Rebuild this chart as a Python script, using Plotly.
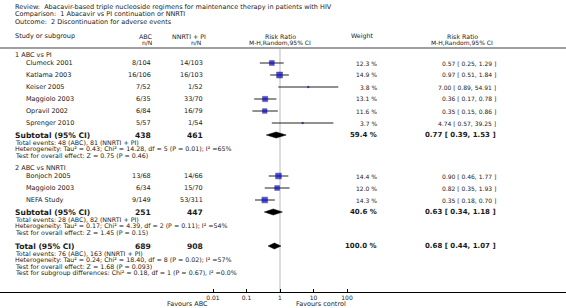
import plotly.graph_objects as go
import math

W, H = 566, 308

title_lines = [
    "Review:  Abacavir-based triple nucleoside regimens for maintenance therapy in patients with HIV",
    "Comparison:  1 Abacavir vs PI continuation or NNRTI",
    "Outcome:  2 Discontinuation for adverse events",
]

# Group 1: ABC vs PI
g1_label = "1 ABC vs PI"
g1_studies = ["Clumeck 2001", "Katlama 2003", "Keiser 2005", "Maggiolo 2003", "Opravil 2002", "Sprenger 2010"]
g1_abc = ["8/104", "16/106", "7/52", "6/35", "6/84", "5/57"]
g1_ctl = ["14/103", "16/103", "1/52", "33/70", "16/79", "1/54"]
g1_weight = [12.3, 14.9, 3.8, 13.1, 11.6, 3.7]
g1_rr = [0.57, 0.97, 7.00, 0.36, 0.35, 4.74]
g1_lo = [0.25, 0.51, 0.89, 0.17, 0.15, 0.57]
g1_hi = [1.29, 1.84, 54.91, 0.78, 0.86, 39.25]
g1_sub = dict(abc="438", ctl="461", weight=59.4, rr=0.77, lo=0.39, hi=1.53)
g1_notes = [
    "Total events: 48 (ABC), 81 (NNRTI + PI)",
    "Heterogeneity: Tau² = 0.43; Chi² = 14.28, df = 5 (P = 0.01); I² =65%",
    "Test for overall effect: Z = 0.75 (P = 0.46)",
]

# Group 2: ABC vs NNRTI
g2_label = "2 ABC vs NNRTI"
g2_studies = ["Bonjoch 2005", "Maggiolo 2003", "NEFA Study"]
g2_abc = ["13/68", "6/34", "9/149"]
g2_ctl = ["14/66", "15/70", "53/311"]
g2_weight = [14.4, 12.0, 14.3]
g2_rr = [0.90, 0.82, 0.35]
g2_lo = [0.46, 0.35, 0.18]
g2_hi = [1.77, 1.93, 0.70]
g2_sub = dict(abc="251", ctl="447", weight=40.6, rr=0.63, lo=0.34, hi=1.18)
g2_notes = [
    "Total events: 28 (ABC), 82 (NNRTI + PI)",
    "Heterogeneity: Tau² = 0.17; Chi² = 4.39, df = 2 (P = 0.11); I² =54%",
    "Test for overall effect: Z = 1.45 (P = 0.15)",
]

total = dict(abc="689", ctl="908", weight=100.0, rr=0.68, lo=0.44, hi=1.07)
total_notes = [
    "Total events: 76 (ABC), 163 (NNRTI + PI)",
    "Heterogeneity: Tau² = 0.24; Chi² = 18.40, df = 8 (P = 0.02); I² =57%",
    "Test for overall effect: Z = 1.68 (P = 0.093)",
    "Test for subgroup differences: Chi² = 0.18, df = 1 (P = 0.67), I² =0.0%",
]

tick_vals = [0.01, 0.1, 1, 10, 100]
tick_text = ["0.01", "0.1", "1", "10", "100"]

# ---------------- layout geometry ----------------
FONT = "DejaVu Sans"
TXT = "#1a1a1a"
AXIS_Y = 292
X_STUDY, X_INDENT = 13, 24
X_ABC, X_CTL = 153, 205
X_WT, X_RR = 379, 498

# log axis: 0.01 at px 213, 100 at px 347
dec = (347 - 213) / 4.0
x0log = -2 - 213 / dec
x1log = 2 + (W - 347) / dec

def fmt_ci(rr, lo, hi):
    return f"{rr:.2f} [ {lo:.2f}, {hi:.2f} ]"

annotations = []

def txt(px, py, s, anchor="left", size=6.5, bold=False, color=TXT):
    annotations.append(dict(
        x=px / W, y=1 - py / H, xref="paper", yref="paper",
        text=f"<b>{s}</b>" if bold else s, showarrow=False,
        xanchor=anchor, yanchor="middle",
        font=dict(family=FONT, size=size, color=color),
    ))

# titles
for i, t in enumerate(title_lines):
    txt(X_STUDY, 7 + i * 7.5, t, size=6.5)

# headers
txt(X_STUDY, 36, "Study or subgroup", size=6.5)
txt(146, 36, "ABC", anchor="center", size=6.3)
txt(147, 42.5, "n/N", anchor="center", size=6)
txt(189, 36, "NNRTI + PI", anchor="center", size=6.3)
txt(196, 42.5, "n/N", anchor="center", size=6)
txt(280, 36, "Risk Ratio", anchor="center", size=6.3)
txt(280, 42.5, "M-H,Random,95% CI", anchor="center", size=6)
txt(362, 36, "Weight", anchor="center", size=6.3)
txt(462, 36, "Risk Ratio", anchor="center", size=6.3)
txt(462, 42.5, "M-H,Random,95% CI", anchor="center", size=6)

sq_x, sq_y, sq_s = [], [], []
ci_x, ci_y = [], []
dia_x, dia_y = [], []

def add_group(label, y_label, studies, abc, ctl, wt, rr, lo, hi, sub, notes, sub_title="Subtotal (95% CI)"):
    y = y_label
    if label:
        txt(X_STUDY, y, label)
        y += 8
    for i in range(len(studies)):
        txt(X_INDENT, y, studies[i])
        txt(X_ABC, y, abc[i], anchor="right")
        txt(X_CTL, y, ctl[i], anchor="right")
        txt(X_WT, y, f"{wt[i]:.1f} %", anchor="right", size=6)
        txt(X_RR, y, fmt_ci(rr[i], lo[i], hi[i]), anchor="right", size=6)
        sq_x.append(rr[i]); sq_y.append(y); sq_s.append(max(wt[i] * 0.4, 1.5))
        ci_x.extend([lo[i], hi[i], None]); ci_y.extend([y, y, None])
        y += 12
    txt(X_STUDY, y, sub_title, size=7.6, bold=True)
    txt(X_ABC, y, sub["abc"], anchor="right", size=7.6, bold=True)
    txt(X_CTL, y, sub["ctl"], anchor="right", size=7.6, bold=True)
    txt(X_WT, y, f"{sub['weight']:.1f} %", anchor="right", size=7, bold=True)
    txt(X_RR, y, fmt_ci(sub["rr"], sub["lo"], sub["hi"]), anchor="right", size=7, bold=True)
    dia_x.extend([sub["lo"], sub["rr"], sub["hi"], sub["rr"], sub["lo"], None])
    dia_y.extend([y, y - 3, y, y + 3, y, None])
    y += 7.5
    for n in notes:
        txt(X_STUDY, y, n, size=6.3)
        y += 6.6
    return y

add_group(g1_label, 55, g1_studies, g1_abc, g1_ctl, g1_weight, g1_rr, g1_lo, g1_hi, g1_sub, g1_notes)
add_group(g2_label, 168, g2_studies, g2_abc, g2_ctl, g2_weight, g2_rr, g2_lo, g2_hi, g2_sub, g2_notes)
add_group(None, 246, [], [], [], [], [], [], [], total, total_notes, sub_title="Total (95% CI)")

txt(188, 303.5, "Favours ABC", anchor="center", size=6.5)
txt(321, 303.5, "Favours control", anchor="center", size=6.5)

fig = go.Figure()
fig.add_trace(go.Scatter(x=ci_x, y=ci_y, mode="lines", line=dict(color="#222", width=1),
                         hoverinfo="skip", showlegend=False))
fig.add_trace(go.Scatter(x=sq_x, y=sq_y, mode="markers",
                         marker=dict(symbol="square", size=sq_s, color="#0000d8",
                                     line=dict(color="#000050", width=0.5)),
                         showlegend=False))
fig.add_trace(go.Scatter(x=dia_x, y=dia_y, mode="lines", fill="toself", fillcolor="#000",
                         line=dict(color="#000", width=0.5), showlegend=False))

shapes = [
    dict(type="line", xref="paper", yref="y", x0=0, x1=1, y0=48, y1=48,
         line=dict(color="#a0a0a0", width=2)),
    dict(type="line", xref="x", yref="y", x0=1, x1=1, y0=48, y1=AXIS_Y,
         line=dict(color="#dcdcdc", width=2), layer="below"),
]

fig.update_layout(
    template="none",
    width=W, height=H, margin=dict(l=0, r=0, t=0, b=0, autoexpand=False),
    paper_bgcolor="white", plot_bgcolor="white",
    annotations=annotations, shapes=shapes, showlegend=False,
    xaxis=dict(type="log", range=[x0log, x1log], domain=[0, 1], automargin=False,
               tickvals=tick_vals, ticktext=tick_text, ticks="inside", ticklen=3,
               tickcolor="#000", tickwidth=1,
               showline=True, linecolor="#000", linewidth=1, showgrid=False, zeroline=False,
               tickfont=dict(family=FONT, size=6, color=TXT), ticklabelstandoff=0),
    yaxis=dict(range=[AXIS_Y, 0], domain=[(H - AXIS_Y) / H, 1], visible=False, automargin=False,
               showgrid=False, zeroline=False),
)

fig.write_html(
    "out.html",
    config={"displayModeBar": False},
    post_script="document.body.style.margin='0';document.body.style.overflow='hidden';",
)
